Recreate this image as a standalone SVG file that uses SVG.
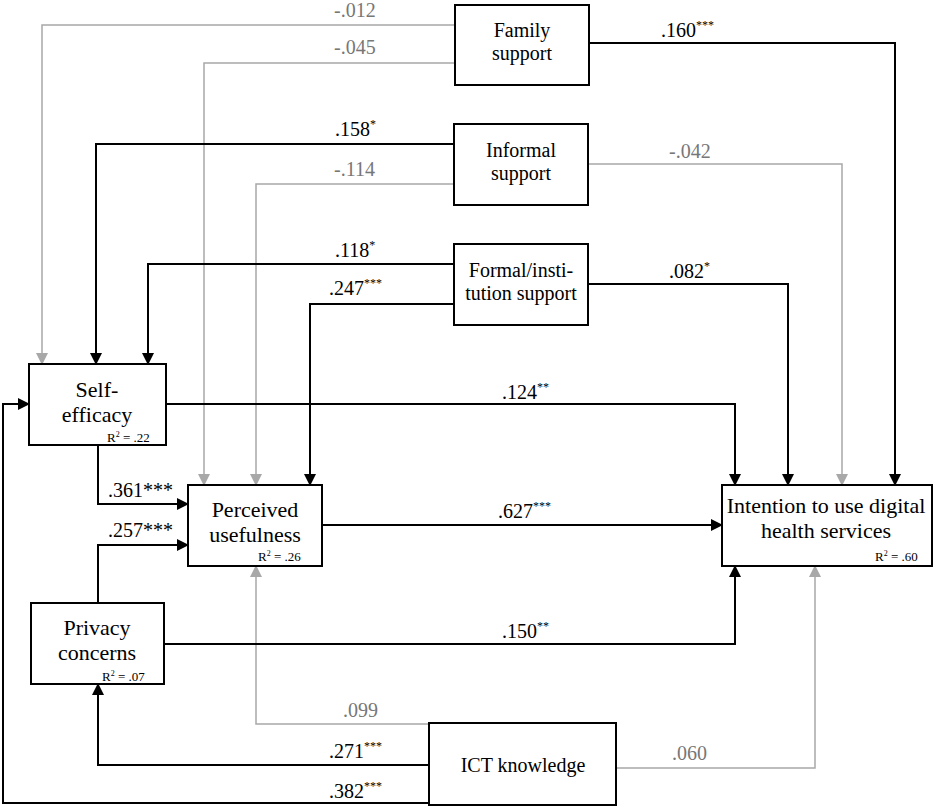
<svg xmlns="http://www.w3.org/2000/svg" width="935" height="808" viewBox="0 0 935 808" font-family="Liberation Serif">
<style>
.node rect{fill:#fff;stroke:#000;stroke-width:2}
.n20{font-size:20px;text-anchor:middle}
.n22{font-size:22px;text-anchor:middle}
.r2{font-size:13px}
.lb{font-size:20px}
.g{fill:#777}
.sup{font-size:12px}
.cb{fill:none;stroke:#000;stroke-width:2;marker-end:url(#ab)}
.cg{fill:none;stroke:#a8a8a8;stroke-width:1.5;marker-end:url(#ag)}
</style>
<defs>
<marker id="ab" markerUnits="userSpaceOnUse" markerWidth="12" markerHeight="12" refX="11" refY="6" orient="auto"><path d="M0,0 L12,6 L0,12 z" fill="#000"/></marker>
<marker id="ag" markerUnits="userSpaceOnUse" markerWidth="12" markerHeight="12" refX="11" refY="6" orient="auto"><path d="M0,0 L12,6 L0,12 z" fill="#a8a8a8"/></marker>
</defs>
<rect width="935" height="808" fill="#fff"/>
<g id="connectors">
<path class="cg" d="M455,25 H42 V364"/>
<path class="cg" d="M455,63 H204 V485"/>
<path class="cg" d="M454,184 H256 V485"/>
<path class="cg" d="M588,164 H842 V485"/>
<path class="cg" d="M429,724 H256 V566"/>
<path class="cg" d="M616,768 H815 V566"/>
<path class="cb" d="M589,43 H895 V485"/>
<path class="cb" d="M454,144 H96 V364"/>
<path class="cb" d="M454,264 H148 V364"/>
<path class="cb" d="M454,304 H310 V485"/>
<path class="cb" d="M588,284 H788 V485"/>
<path class="cb" d="M166,404 H735 V485"/>
<path class="cb" d="M98,445 V504 H188"/>
<path class="cb" d="M98,603 V545 H188"/>
<path class="cb" d="M322,525 H722"/>
<path class="cb" d="M164,644 H735 V566"/>
<path class="cb" d="M429,765 H98 V684"/>
<path class="cb" d="M429,803 H3 V404 H29"/>
</g>
<g id="labels" font-family="Liberation Serif">
<text class="lb g" x="334" y="17">-.012</text>
<text class="lb g" x="334" y="54">-.045</text>
<text class="lb" x="335" y="136">.158<tspan class="sup" dy="-8">*</tspan></text>
<text class="lb g" x="334" y="176">-.114</text>
<text class="lb" x="335" y="257">.118<tspan class="sup" dy="-8">*</tspan></text>
<text class="lb" x="329" y="295">.247<tspan class="sup" dy="-8">***</tspan></text>
<text class="lb" x="661" y="37">.160<tspan class="sup" dy="-8">***</tspan></text>
<text class="lb g" x="669" y="158">-.042</text>
<text class="lb" x="669" y="278">.082<tspan class="sup" dy="-8">*</tspan></text>
<text class="lb" x="502" y="399">.124<tspan class="sup" dy="-8">**</tspan></text>
<text class="lb" x="498" y="518">.627<tspan class="sup" dy="-8">***</tspan></text>
<text class="lb" x="108" y="497">.361***</text>
<text class="lb" x="108" y="537">.257***</text>
<text class="lb" x="502" y="638">.150<tspan class="sup" dy="-8">**</tspan></text>
<text class="lb g" x="343" y="717">.099</text>
<text class="lb" x="329" y="758">.271<tspan class="sup" dy="-8">***</tspan></text>
<text class="lb" x="329" y="798">.382<tspan class="sup" dy="-8">***</tspan></text>
<text class="lb g" x="672" y="760">.060</text>
</g>
<g id="family" class="node" font-family="Liberation Serif">
<rect x="455" y="5" width="134" height="80"/>
<text class="n20" x="522" y="37">Family</text>
<text class="n20" x="522" y="60">support</text>
</g>
<g id="informal" class="node" font-family="Liberation Serif">
<rect x="454" y="124" width="134" height="81"/>
<text class="n20" x="521" y="157">Informal</text>
<text class="n20" x="521" y="180">support</text>
</g>
<g id="formal" class="node" font-family="Liberation Serif">
<rect x="454" y="244" width="134" height="81"/>
<text class="n20" x="521" y="277">Formal/insti-</text>
<text class="n20" x="521" y="300">tution support</text>
</g>
<g id="selfefficacy" class="node" font-family="Liberation Serif">
<rect x="29" y="364" width="137" height="81"/>
<text class="n22" x="97" y="397">Self-</text>
<text class="n22" x="97" y="422">efficacy</text>
<text class="r2" x="107" y="442">R<tspan font-size="8" dy="-5">2</tspan><tspan dy="5"> = .22</tspan></text>
</g>
<g id="usefulness" class="node" font-family="Liberation Serif">
<rect x="188" y="485" width="134" height="81"/>
<text class="n22" x="255" y="517">Perceived</text>
<text class="n22" x="255" y="542">usefulness</text>
<text class="r2" x="258" y="561">R<tspan font-size="8" dy="-5">2</tspan><tspan dy="5"> = .26</tspan></text>
</g>
<g id="intention" class="node" font-family="Liberation Serif">
<rect x="722" y="485" width="210" height="81"/>
<text class="n22" x="826" y="513">Intention to use digital</text>
<text class="n22" x="826" y="538">health services</text>
<text class="r2" x="875" y="561">R<tspan font-size="8" dy="-5">2</tspan><tspan dy="5"> = .60</tspan></text>
</g>
<g id="privacy" class="node" font-family="Liberation Serif">
<rect x="31" y="603" width="133" height="81"/>
<text class="n22" x="97" y="635">Privacy</text>
<text class="n22" x="97" y="660">concerns</text>
<text class="r2" x="102" y="681">R<tspan font-size="8" dy="-5">2</tspan><tspan dy="5"> = .07</tspan></text>
</g>
<g id="ict" class="node" font-family="Liberation Serif">
<rect x="429" y="723" width="187" height="82"/>
<text class="n20" x="523" y="772">ICT knowledge</text>
</g>
</svg>
